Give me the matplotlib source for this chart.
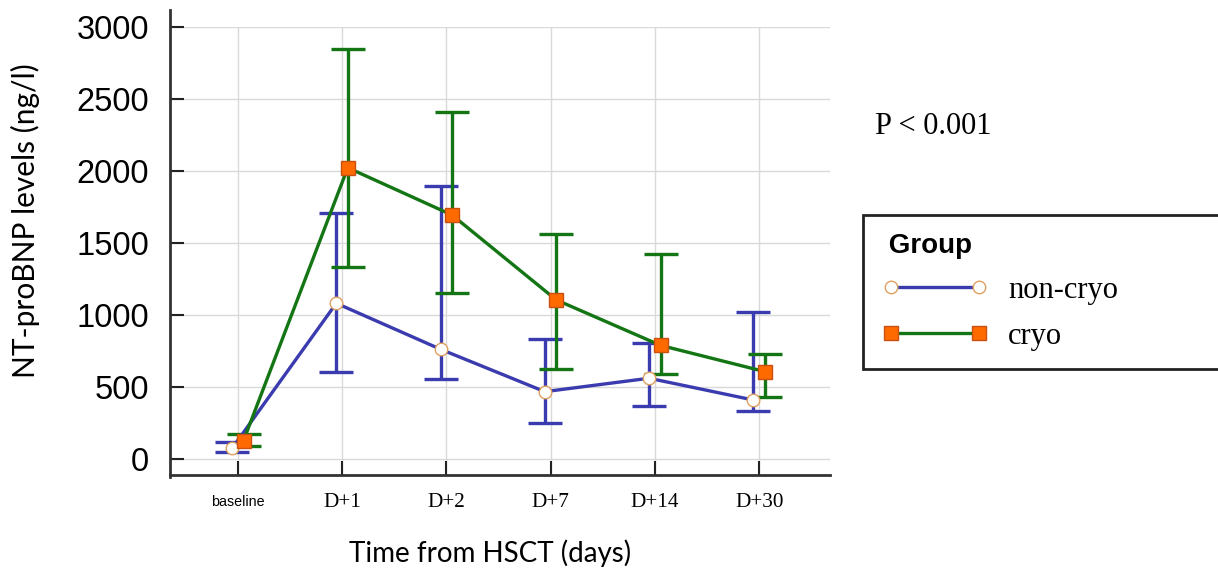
"""
NT-proBNP levels after HSCT, cryo vs non-cryo groups
"""

import numpy as np
import matplotlib.pyplot as plt
from matplotlib.lines import Line2D

## data

timepoints = ['baseline', 'D+1', 'D+2', 'D+7', 'D+14', 'D+30']

noncryo_mean = [76, 1082, 763, 469, 562, 411]
noncryo_low = [53, 608, 559, 250, 370, 337]
noncryo_high = [122, 1705, 1897, 832, 809, 1019]

cryo_mean = [129, 2022, 1694, 1105, 790, 608]
cryo_low = [92, 1336, 1151, 629, 592, 434]
cryo_high = [173, 2843, 2406, 1560, 1421, 728]

yticks = [0, 500, 1000, 1500, 2000, 2500, 3000]

## styles

BLUE = '#3b3bb0'
GREEN = '#137513'
ORANGE = '#ff6a00'
SERIF = 'Liberation Serif'
SANS = 'Liberation Sans'

## plot

fig = plt.figure(figsize=(12.18, 5.8), dpi=100)
ax = fig.add_axes([170/1218, 1-475/580, 660/1218, 448.3/580])

x = np.arange(len(timepoints))
shift = 0.055

def draw_group(xpos, mean, low, high, color, marker, face, edge, msize):
    mean = np.array(mean)
    err = np.vstack([mean - np.array(low), np.array(high) - mean])
    ax.errorbar(xpos, mean, yerr=err, fmt='none', ecolor=color, elinewidth=2.4,
                capsize=12, capthick=2.4, clip_on=False, zorder=3)
    ax.plot(xpos, mean, color=color, lw=2.4, marker=marker, ms=msize,
            mfc=face, mec=edge, mew=1.0, clip_on=False, zorder=4)

draw_group(x - shift, noncryo_mean, noncryo_low, noncryo_high, BLUE, 'o', 'white', '#e0a060', 9)
draw_group(x + shift, cryo_mean, cryo_low, cryo_high, GREEN, 's', ORANGE, '#c85010', 9.5)

ax.set_xlim(-0.65, 5.68)
ax.set_ylim(-109, 3000)

# vertical grid stops at 3000, y spine goes a bit higher
ax.grid(True, color='#d9d9d9', lw=1)
ax.set_axisbelow(True)
for s in ['top', 'right']:
    ax.spines[s].set_visible(False)
for s in ['left', 'bottom']:
    ax.spines[s].set_linewidth(2)
    ax.spines[s].set_color('#333333')
ax.spines['left'].set_bounds(-120, 3116)

ax.set_yticks(yticks)
ax.set_yticklabels([str(v) for v in yticks], family=SANS, fontsize=23.5)
ax.tick_params(axis='y', direction='in', length=10, width=1.5, pad=15, colors='#222222', labelcolor='black')

ax.set_xticks(x)
ax.set_xticklabels(timepoints, va='center')
ax.tick_params(axis='x', direction='in', length=10, width=1.5, pad=19.5, colors='#222222', labelcolor='black')
for i, lab in enumerate(ax.get_xticklabels()):
    if i == 0:
        lab.set_family(SANS)
        lab.set_fontsize(10.3)
    else:
        lab.set_family(SERIF)
        lab.set_fontsize(15.3)

fig.text(25/1218, 1-221/580, 'NT-proBNP levels (ng/l)', family='Lato', fontsize=21.5,
         rotation=90, ha='center', va='center')
fig.text(490/1218, 1-553/580, 'Time from HSCT (days)', family='Lato', fontsize=20,
         ha='center', va='center')
fig.text(875/1218, 1-127/580, 'P < 0.001', family=SERIF, fontsize=22, ha='left', va='center')

handles = [
    Line2D([], [], color=BLUE, lw=2.4, marker='o', ms=9, mfc='white', mec='#e0a060'),
    Line2D([], [], color=GREEN, lw=2.4, marker='s', ms=9.5, mfc=ORANGE, mec='#c85010'),
]
leg = fig.legend(handles, ['non-cryo', 'cryo'], loc='upper left',
                 bbox_to_anchor=(863/1218, 1-368/580, 0.32, 153/580), mode='expand',
                 borderaxespad=0, title=' Group', alignment='left', numpoints=2,
                 handlelength=3.5, handletextpad=0.65, labelspacing=0.55, borderpad=0.6,
                 prop={'family': SERIF, 'size': 22}, fancybox=False, framealpha=1)
leg.get_title().set_fontproperties({'family': SANS, 'weight': 'bold', 'size': 20})
leg.get_frame().set_edgecolor('#222222')
leg.get_frame().set_linewidth(2)

plt.savefig('out.png', dpi=100)
